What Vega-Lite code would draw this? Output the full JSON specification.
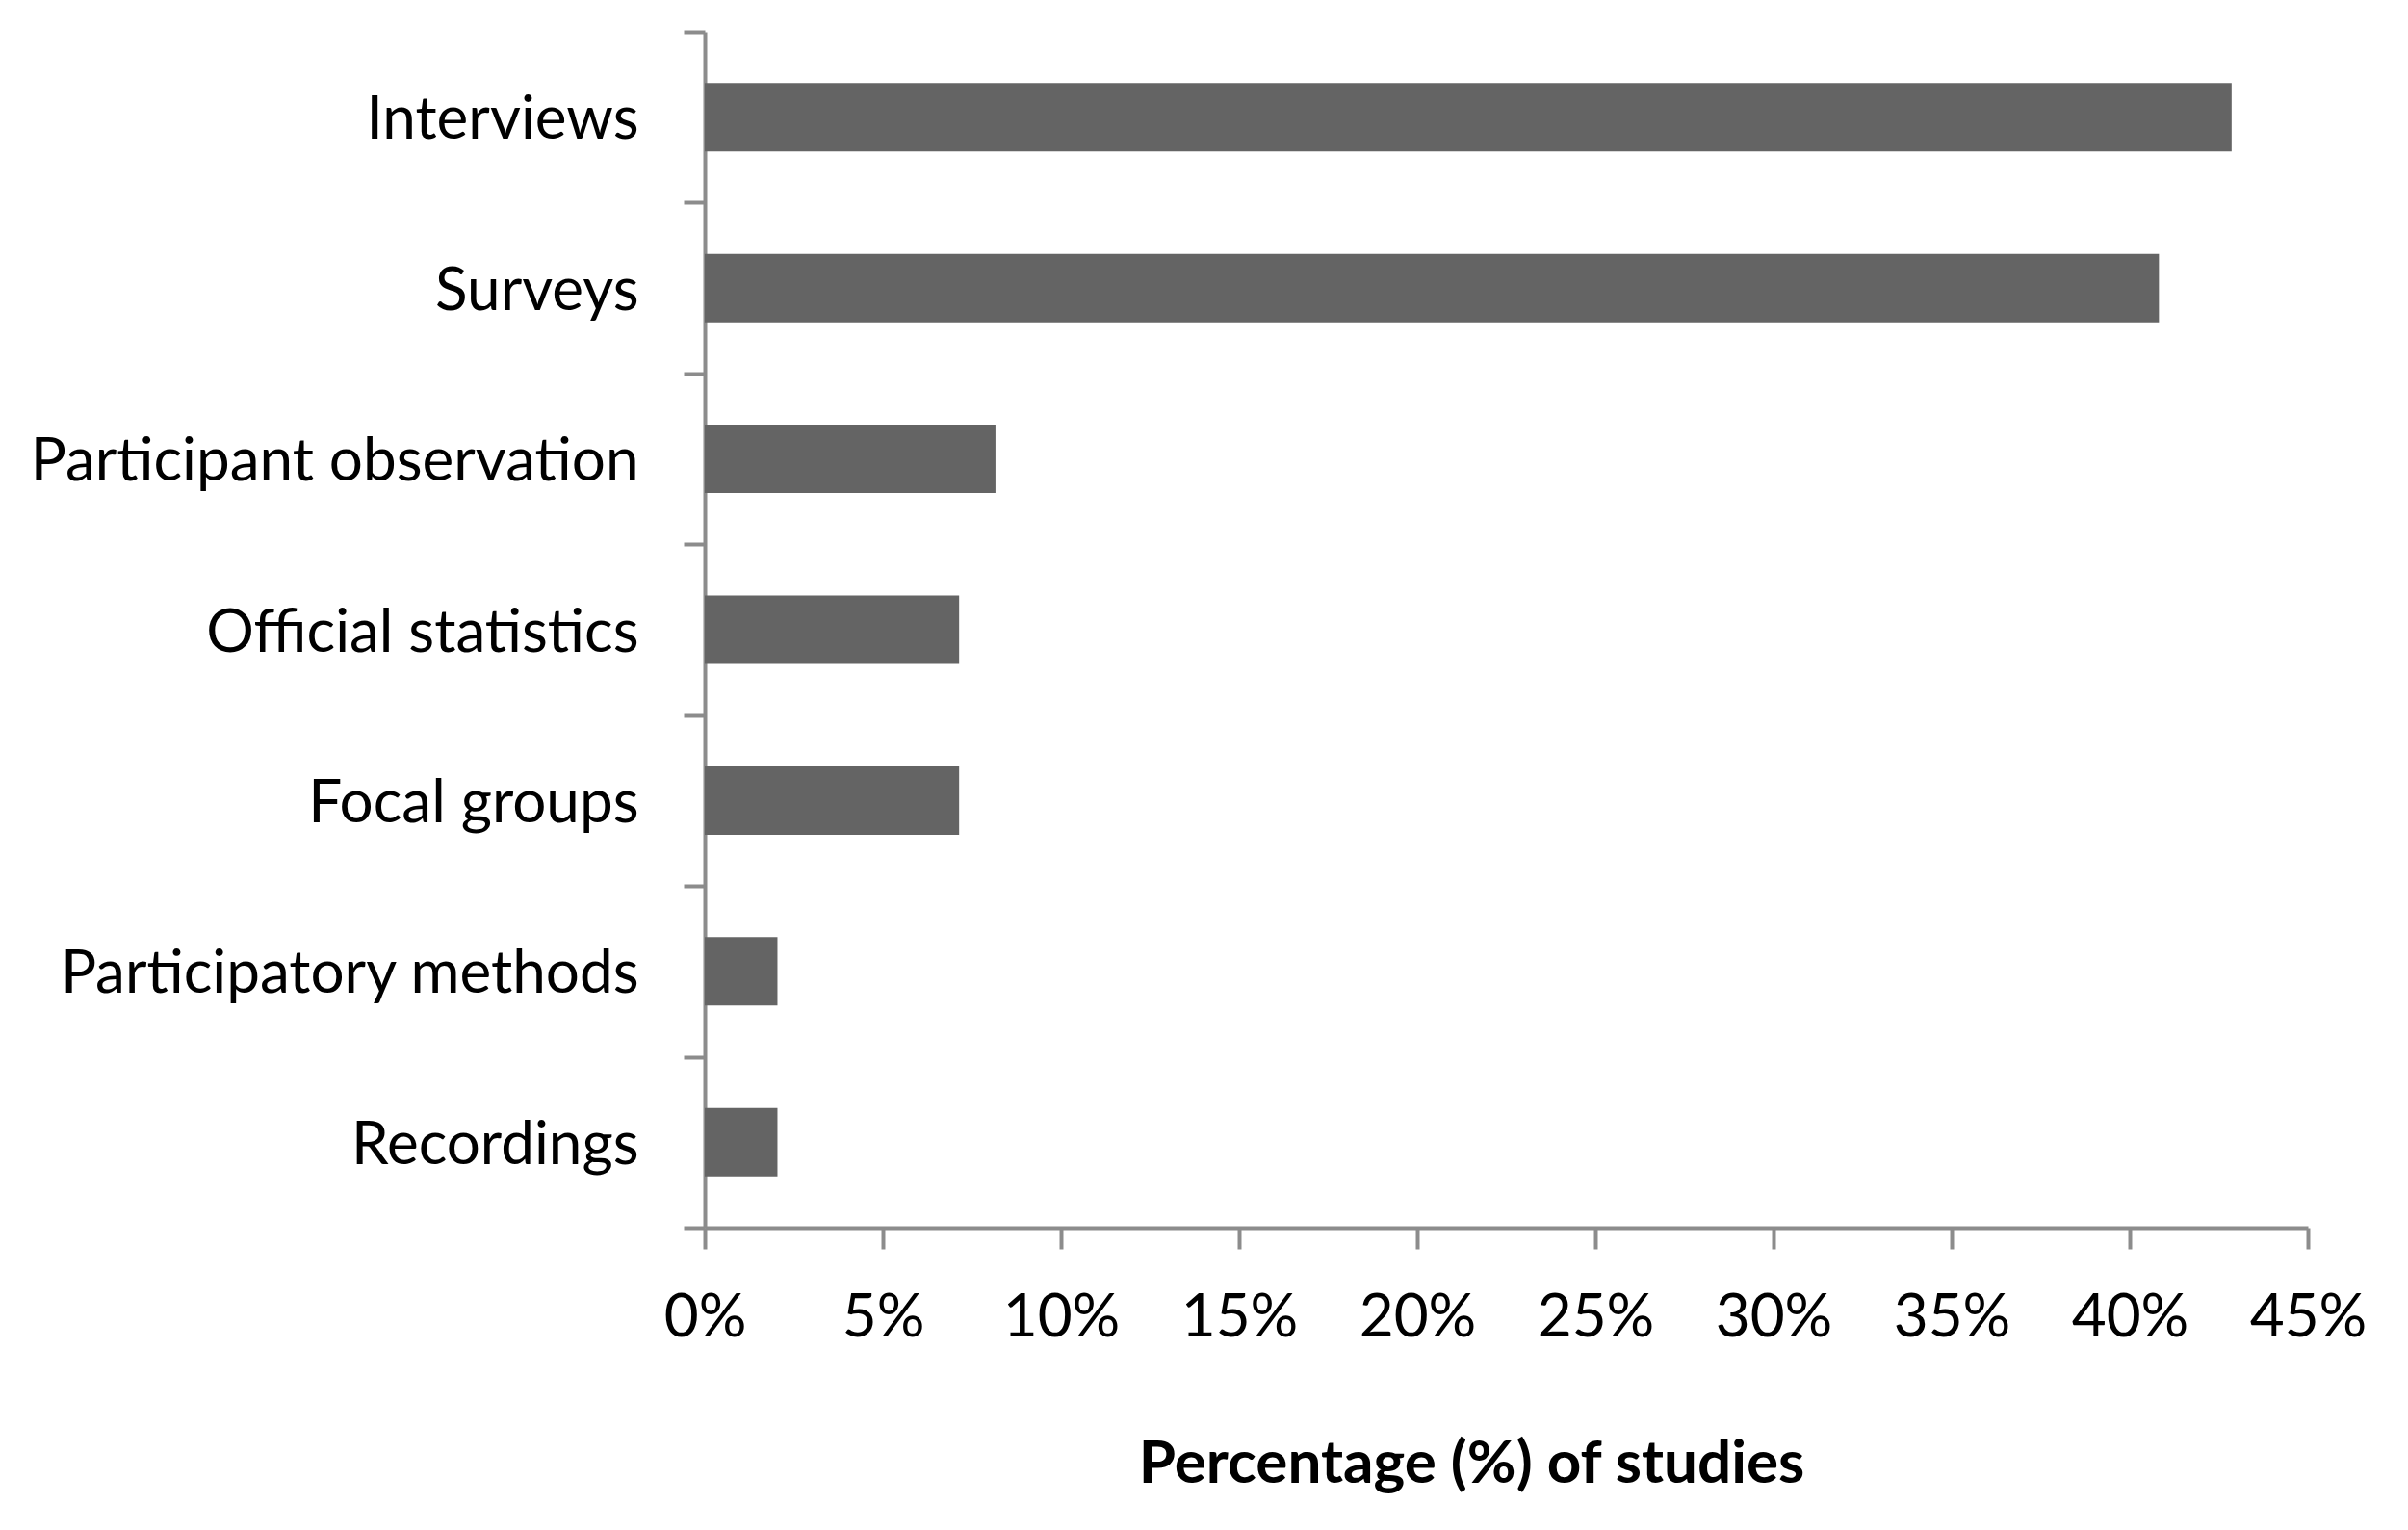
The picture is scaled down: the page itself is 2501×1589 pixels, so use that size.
{
  "$schema": "https://vega.github.io/schema/vega-lite/v6.json",
  "width": 1665,
  "height": 1242,
  "autosize": {"type": "none"},
  "padding": {"left": 732, "top": 33, "right": 104, "bottom": 314},
  "background": "white",
  "data": {
    "values": [
      {"method": "Interviews", "share": 0.4286},
      {"method": "Surveys", "share": 0.4082},
      {"method": "Participant observation", "share": 0.0816},
      {"method": "Official statistics", "share": 0.0714},
      {"method": "Focal groups", "share": 0.0714},
      {"method": "Participatory methods", "share": 0.0204},
      {"method": "Recordings", "share": 0.0204}
    ]
  },
  "mark": {"type": "bar", "color": "#646464", "height": {"band": 0.4}},
  "encoding": {
    "y": {
      "field": "method",
      "type": "nominal",
      "sort": null,
      "scale": {"paddingInner": 0, "paddingOuter": 0},
      "axis": {
        "title": null,
        "tickBand": "extent",
        "tickSize": 22,
        "tickWidth": 4,
        "tickColor": "#8c8c8c",
        "domainColor": "#8c8c8c",
        "domainWidth": 4,
        "labelFontSize": 62,
        "labelFont": "Lato",
        "labelColor": "#000000",
        "labelPadding": 47,
        "labelLimit": 1000,
        "labelOffset": 3
      }
    },
    "x": {
      "field": "share",
      "type": "quantitative",
      "scale": {"domain": [0, 0.45], "nice": false, "zero": true},
      "axis": {
        "values": [0, 0.05, 0.1, 0.15, 0.2, 0.25, 0.3, 0.35, 0.4, 0.45],
        "format": ".0%",
        "grid": false,
        "tickSize": 22,
        "tickWidth": 4,
        "tickColor": "#8c8c8c",
        "domainColor": "#8c8c8c",
        "domainWidth": 4,
        "labelFontSize": 62,
        "labelFont": "Lato",
        "labelColor": "#000000",
        "labelBaseline": "alphabetic",
        "labelPadding": 90,
        "labelFlush": false,
        "labelOverlap": false,
        "title": "Percentage (%) of studies",
        "titleFont": "Lato",
        "titleFontSize": 62,
        "titleFontWeight": "bold",
        "titleColor": "#000000",
        "titleBaseline": "alphabetic",
        "titleAlign": "center",
        "titleAnchor": "start",
        "titleX": 796,
        "titleY": 264
      }
    }
  },
  "config": {"view": {"stroke": null}}
}
